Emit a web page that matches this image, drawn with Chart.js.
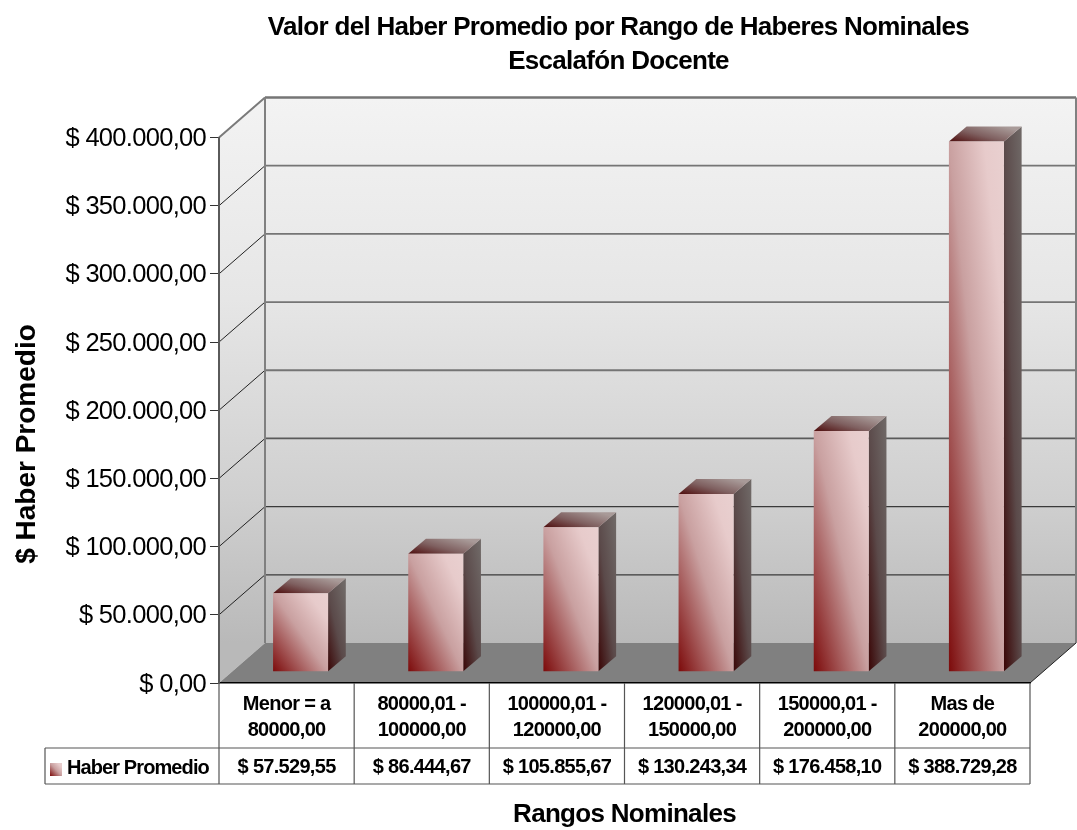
<!DOCTYPE html>
<html><head><meta charset="utf-8">
<style>html,body{margin:0;padding:0;background:#fff;overflow:hidden}canvas{display:block}</style>
<script src="https://cdn.jsdelivr.net/npm/chart.js@4/dist/chart.umd.min.js"></script>
</head><body>
<div style="width:1077px;height:830px"><canvas id="c" width="1077" height="830"></canvas></div>
<script>
const chartTitle = ['Valor del Haber Promedio por Rango de Haberes Nominales', 'Escalafón Docente'];
const categories = [['Menor = a', '80000,00'], ['80000,01 -', '100000,00'], ['100000,01 -', '120000,00'], ['120000,01 -', '150000,00'], ['150000,01 -', '200000,00'], ['Mas de', '200000,00']];
const seriesName = 'Haber Promedio';
const seriesValues = [57529.55, 86444.67, 105855.67, 130243.34, 176458.10, 388729.28];
const valueLabels = ['$ 57.529,55', '$ 86.444,67', '$ 105.855,67', '$ 130.243,34', '$ 176.458,10', '$ 388.729,28'];
const xAxisTitle = 'Rangos Nominales';
const yAxisTitle = '$ Haber Promedio';
const yMax = 400000, yStep = 50000;

const FONT = '"Liberation Sans", Arial, sans-serif';
const DEPTH = {x: 46, y: 40};          // wall depth
const BAR_SHIFT = {x: 14, y: 11.3};    // bars stand inside the floor
const BAR_DEPTH = {x: 17.7, y: 15};
const SPACING = '-0.7px';

function scaledGradient(ctx, x0, y0, w, h, stops) {
  const gx = 1 / (2 * w), gy = -1 / (2 * h), n = gx * gx + gy * gy;
  const g = ctx.createLinearGradient(x0, y0, x0 + gx / n, y0 + gy / n);
  stops.forEach(s => g.addColorStop(s[0], s[1]));
  return g;
}
const frontStops = [[0, '#7c0a0a'], [0.5, '#c9a0a0'], [0.82, '#e7cbcb'], [1, '#e9d0d0']];
const sideStops = [[0, '#3a0606'], [0.5, '#5b4a4a'], [1, '#6f6866']];
const topStops = [[0, '#4e0d0d'], [0.5, '#7f6060'], [1, '#a89a98']];

const scene = {
  id: 'scene',
  afterLayout(chart) {
    if (chart.titleBlock) { chart.titleBlock.left -= 6; chart.titleBlock.right -= 6; }
  },
  beforeDraw(chart) {
    const {ctx, chartArea: a, scales: {y}} = chart;
    ctx.letterSpacing = SPACING;
    ctx.save();
    const wall = ctx.createLinearGradient(0, a.top - DEPTH.y, 0, a.bottom - DEPTH.y);
    wall.addColorStop(0, '#f3f3f3'); wall.addColorStop(0.37, '#e6e6e6');
    wall.addColorStop(0.74, '#cfcfcf'); wall.addColorStop(1, '#b9b9b9');
    ctx.fillStyle = wall;
    ctx.fillRect(a.left + DEPTH.x, a.top - DEPTH.y, a.width, a.height);
    ctx.beginPath();
    ctx.moveTo(a.left, a.top); ctx.lineTo(a.left + DEPTH.x, a.top - DEPTH.y);
    ctx.lineTo(a.left + DEPTH.x, a.bottom - DEPTH.y); ctx.lineTo(a.left, a.bottom); ctx.closePath();
    ctx.fill();
    // floor
    ctx.fillStyle = '#808080';
    ctx.beginPath();
    ctx.moveTo(a.left, a.bottom); ctx.lineTo(a.left + DEPTH.x, a.bottom - DEPTH.y);
    ctx.lineTo(a.right + DEPTH.x, a.bottom - DEPTH.y); ctx.lineTo(a.right, a.bottom); ctx.closePath();
    ctx.fill();
    // gridlines from the value scale
    y.ticks.forEach(t => {
      if (t.value === 0) return;
      const py = y.getPixelForValue(t.value);
      const isTop = t.value === yMax;
      ctx.strokeStyle = t.value <= 100000 ? '#3a3a3a' : (t.value <= 150000 ? '#5a5a5a' : '#757575');
      ctx.lineWidth = t.value <= 100000 ? 1.2 : (isTop ? 2.4 : 1.8);
      ctx.beginPath(); ctx.moveTo(a.left + DEPTH.x, py - DEPTH.y); ctx.lineTo(a.right + DEPTH.x, py - DEPTH.y); ctx.stroke();
      ctx.strokeStyle = isTop ? '#7a7a7a' : '#222'; ctx.lineWidth = isTop ? 2 : 1;
      ctx.beginPath(); ctx.moveTo(a.left, py); ctx.lineTo(a.left + DEPTH.x, py - DEPTH.y); ctx.stroke();
    });
    ctx.strokeStyle = '#808080'; ctx.lineWidth = 2;
    ctx.beginPath();
    ctx.moveTo(a.left + DEPTH.x, a.top - DEPTH.y); ctx.lineTo(a.left + DEPTH.x, a.bottom - DEPTH.y);
    ctx.moveTo(a.right + DEPTH.x, a.top - DEPTH.y); ctx.lineTo(a.right + DEPTH.x, a.bottom - DEPTH.y);
    ctx.stroke();
    ctx.strokeStyle = '#222'; ctx.lineWidth = 1;
    ctx.beginPath(); ctx.moveTo(a.right, a.bottom); ctx.lineTo(a.right + DEPTH.x, a.bottom - DEPTH.y); ctx.stroke();
    ctx.restore();
  },
  beforeDatasetsDraw(chart) {
    const {ctx} = chart;
    ctx.save();
    ctx.translate(BAR_SHIFT.x, -BAR_SHIFT.y);
    chart.getDatasetMeta(0).data.forEach(b => {
      const l = b.x - b.width / 2, r = b.x + b.width / 2, h = b.base - b.y;
      const dx = BAR_DEPTH.x, dy = BAR_DEPTH.y;
      ctx.fillStyle = scaledGradient(ctx, r, b.base, dx, h, sideStops);
      ctx.beginPath();
      ctx.moveTo(r, b.base); ctx.lineTo(r + dx, b.base - dy); ctx.lineTo(r + dx, b.y - dy); ctx.lineTo(r, b.y); ctx.closePath();
      ctx.fill();
      ctx.fillStyle = scaledGradient(ctx, l, b.y, b.width, dy, topStops);
      ctx.beginPath();
      ctx.moveTo(l, b.y); ctx.lineTo(r, b.y); ctx.lineTo(r + dx, b.y - dy); ctx.lineTo(l + dx, b.y - dy); ctx.closePath();
      ctx.fill();
    });
  },
  afterDatasetsDraw(chart) { chart.ctx.restore(); },
  afterDraw(chart) {
    const {ctx, chartArea: a, scales: {x}} = chart;
    const rowTop = 748, rowBottom = 784, tableLeft = 45, catW = a.width / categories.length;
    ctx.save();
    ctx.strokeStyle = '#555'; ctx.lineWidth = 1.2;
    ctx.beginPath();
    ctx.moveTo(tableLeft, rowTop); ctx.lineTo(a.right, rowTop);
    ctx.moveTo(tableLeft, rowBottom); ctx.lineTo(a.right, rowBottom);
    ctx.moveTo(tableLeft, rowTop); ctx.lineTo(tableLeft, rowBottom);
    for (let i = 0; i <= categories.length; i++) {
      const px = i < categories.length ? x.getPixelForValue(i) - catW / 2 : a.right;
      ctx.moveTo(px, a.bottom); ctx.lineTo(px, rowBottom);
    }
    ctx.stroke();
    // legend key and series name
    ctx.fillStyle = scaledGradient(ctx, 50, 776, 12, 13, frontStops);
    ctx.fillRect(50, 763, 12, 13);
    ctx.fillStyle = '#000'; ctx.font = 'bold 20px ' + FONT;
    ctx.textBaseline = 'middle'; ctx.textAlign = 'left';
    ctx.letterSpacing = '-0.9px';
    ctx.fillText(seriesName, 67, 768);
    ctx.letterSpacing = SPACING;
    ctx.textAlign = 'center';
    valueLabels.forEach((s, i) => ctx.fillText(s, x.getPixelForValue(i), 767));
    // value axis title
    ctx.letterSpacing = '0px';
    ctx.translate(35, 444);
    ctx.rotate(-Math.PI / 2);
    ctx.textBaseline = 'alphabetic';
    ctx.font = 'bold 28px ' + FONT;
    ctx.fillText(yAxisTitle, 0, 0);
    ctx.restore();
  }
};

const canvas = document.getElementById('c');

new Chart(canvas, {
  type: 'bar',
  plugins: [scene],
  data: {
    labels: categories,
    datasets: [{
      label: seriesName,
      data: seriesValues,
      clip: false,
      borderWidth: 0,
      categoryPercentage: 1,
      barPercentage: 0.407,
      backgroundColor(c) {
        const chart = c.chart, xs = chart.scales.x, ys = chart.scales.y;
        if (!chart.chartArea || !xs || !ys || c.dataIndex === undefined) return '#c9a0a0';
        const w = chart.chartArea.width / categories.length * 0.407;
        const base = ys.getPixelForValue(0), top = ys.getPixelForValue(seriesValues[c.dataIndex]);
        return scaledGradient(chart.ctx, xs.getPixelForValue(c.dataIndex) - w / 2, base, w, base - top, frontStops);
      }
    }]
  },
  options: {
    responsive: false,
    animation: false,
    layout: {padding: {left: 0, right: 47, top: 0, bottom: 0}},
    plugins: {
      legend: {display: false},
      tooltip: {enabled: false},
      title: {
        display: true, text: chartTitle, fullSize: false, color: '#000',
        font: {family: FONT, size: 26, weight: 'bold', lineHeight: 1.31},
        padding: {top: 11, bottom: 58.4}
      }
    },
    scales: {
      x: {
        offset: true,
        afterFit(s) { s.height = 147; },
        border: {color: '#000', width: 1.5},
        grid: {display: false},
        ticks: {color: '#000', maxRotation: 0, autoSkip: false, padding: 0,
          font: {family: FONT, size: 20, weight: 'bold', lineHeight: 1.3}},
        title: {display: true, text: xAxisTitle, color: '#000', padding: 0,
          font: {family: FONT, size: 26, weight: 'bold'}}
      },
      y: {
        min: 0, max: yMax,
        afterFit(s) { s.width = 219; },
        border: {color: '#5a5a5a', width: 2},
        grid: {drawOnChartArea: false, tickColor: '#333', tickLength: 9, tickWidth: 1},
        ticks: {stepSize: yStep, color: '#000', padding: 4, labelOffset: 1.5,
          font: {family: FONT, size: 25.5},
          callback: v => '$ ' + Number(v).toLocaleString('de-DE', {minimumFractionDigits: 2, maximumFractionDigits: 2})}
      }
    }
  }
});
</script>
</body></html>
